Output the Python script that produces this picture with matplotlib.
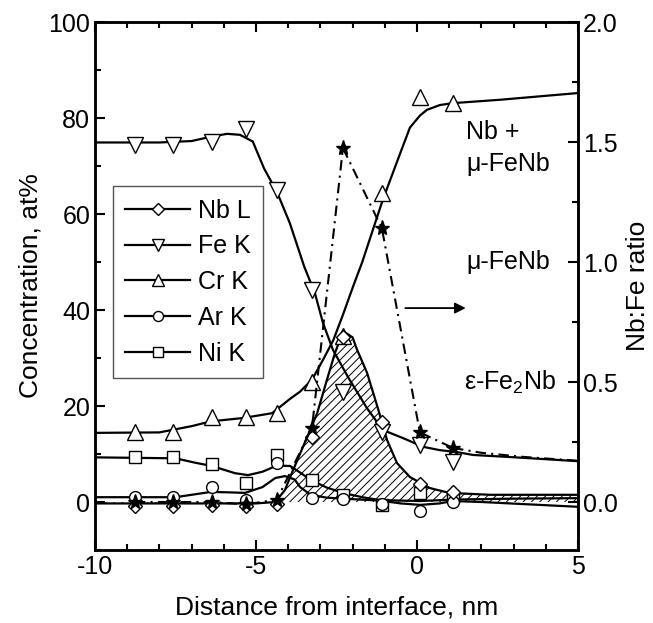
import matplotlib
matplotlib.use("Agg")
import matplotlib.pyplot as plt
from matplotlib.lines import Line2D

plt.rcParams['font.family'] = ['Liberation Sans', 'DejaVu Sans']
plt.rcParams['mathtext.default'] = 'regular'
plt.rcParams['axes.unicode_minus'] = False
plt.rcParams['hatch.linewidth'] = 0.7

# measured points (x in nm)
x_pts = [-8.76, -7.58, -6.37, -5.31, -4.35, -3.26, -2.30, -1.09, 0.09, 1.12]
nb_pts = [-0.8, -0.8, -0.6, -0.8, -0.5, 13.5, 34.4, 16.7, 3.8, 2.1]
fe_pts = [74.4, 74.4, 75.1, 77.8, 65.0, 44.2, 22.9, 14.6, 11.9, 8.3]
cr_pts = [14.6, 14.6, 17.7, 17.8, 18.5, 25.0, 34.5, 64.4, 84.4, 83.1]
ar_pts = [1.0, 1.0, 3.1, 0.4, 8.1, 0.8, 0.6, -0.5, -1.8, 0.0]
ni_pts = [9.3, 9.3, 7.9, 4.0, 9.8, 4.6, 1.5, -0.6, 1.9, 1.0]
ratio_pts = [0.0, 0.0, 0.0, -0.01, 0.01, 0.31, 1.475, 1.14, 0.29, 0.225]

# ratio line tail after last point
ratio_tail_x = [1.12, 2.0, 3.3, 5.0]
ratio_tail = [0.225, 0.205, 0.188, 0.172]

# smooth fitted curves
nb_cx = [-10, -8, -6, -5, -4.4, -4.1, -3.94, -3.54, -3.1, -2.8, -2.55, -2.35, -2.2,
         -2.0, -1.86, -1.55, -1.2, -0.93, -0.62, -0.22, 0.4, 1.0, 2.27, 5.0]
nb_cy = [-0.3, -0.3, -0.3, -0.3, 0.0, 2.5, 5.2, 11.5, 18.5, 25.4, 31.0, 34.6, 35.2,
         34.3, 31.7, 26.9, 19.2, 12.9, 8.1, 5.2, 2.9, 1.9, 1.5, 1.5]
fe_cx = [-10, -8, -7, -6.4, -5.9, -5.5, -5.1, -4.75, -4.35, -3.95, -3.5, -3.17, -2.92,
         -2.61, -2.14, -1.55, -1.06, -0.43, 0.19, 0.71, 1.24, 1.74, 2.8, 3.8, 5.0]
fe_cy = [74.9, 74.9, 75.2, 76.1, 76.7, 76.5, 75.1, 69.5, 64.6, 58.1, 49.0, 43.5, 37.3,
         31.7, 26.0, 19.5, 15.0, 13.3, 11.5, 10.8, 10.4, 9.8, 9.4, 9.0, 8.5]
cr_cx = [-10, -8, -7, -6.4, -5.4, -4.5, -3.94, -3.63, -3.26, -2.92, -2.6, -2.3, -1.99,
         -1.7, -1.06, -0.53, -0.22, 0.09, 0.31, 0.71, 1.12, 2.58, 5.0]
cr_cy = [14.4, 14.5, 15.8, 16.8, 17.5, 18.5, 21.5, 23.0, 25.5, 29.6, 33.7, 39.0, 44.8,
         50.0, 63.0, 72.5, 78.0, 80.5, 81.7, 82.7, 83.1, 83.8, 85.2]
ar_cx = [-10, -7.5, -6.9, -6.4, -5.8, -5.34, -4.8, -4.4, -4.1, -3.8, -3.63, -3.3, -2.8,
         -2.3, -1.15, -0.5, 0.1, 0.7, 1.1, 2.0, 3.5, 5.0]
ar_cy = [1.0, 1.0, 1.6, 2.1, 2.0, 1.9, 3.1, 5.0, 5.4, 4.7, 3.1, 1.5, 0.9,
         0.7, 0.3, -0.3, -0.6, -0.3, 0.2, 0.0, -0.5, -1.0]
ni_cx = [-10, -7.5, -6.9, -6.37, -5.65, -5.25, -4.8, -4.35, -3.94, -3.6, -3.3, -2.8,
         -2.3, -1.7, -1.15, 0.1, 1.1, 3.0, 5.0]
ni_cy = [9.3, 9.1, 8.2, 7.5, 6.0, 5.6, 6.3, 7.6, 7.5, 6.0, 4.6, 3.0,
         1.9, 1.0, 0.4, 0.2, 0.5, 0.7, 0.8]

labels = ['Nb L', 'Fe K', 'Cr K', 'Ar K', 'Ni K']
markers = ['D', 'v', '^', 'o', 's']
msizes = [7.5, 11, 11, 8.5, 8.5]

fig = plt.figure(figsize=(6.53, 6.23), dpi=100)
ax = fig.add_axes([95 / 653, 1 - 550 / 623, 483 / 653, 528 / 623])
ax2 = ax.twinx()

ax.fill_between(nb_cx, nb_cy, 0, facecolor='white', edgecolor='black',
                hatch='////', linewidth=0, zorder=1)

curves = [(nb_cx, nb_cy), (fe_cx, fe_cy), (cr_cx, cr_cy), (ar_cx, ar_cy), (ni_cx, ni_cy)]
for cx, cy in curves:
    ax.plot(cx, cy, color='black', lw=1.6, zorder=2)

pts = [nb_pts, fe_pts, cr_pts, ar_pts, ni_pts]
order = [4, 3, 2, 1, 0]
for i in order:
    ax.plot(x_pts, pts[i], ls='none', marker=markers[i], ms=msizes[i],
            mfc='white', mec='black', mew=1.0, zorder=3)

# Nb:Fe ratio on right axis
dashdot = (0, (5, 2.5, 1, 2.5))
ax2.plot(x_pts, ratio_pts, color='black', lw=1.5, ls=dashdot,
         marker='*', ms=11, mfc='black', mec='black', zorder=4)
ax2.plot(ratio_tail_x, ratio_tail, color='black', lw=1.5, ls=dashdot, zorder=4)

ax.set_xlim(-10, 5)
ax.set_ylim(-10, 100)
ax2.set_ylim(-0.2, 2.0)

ax.set_xticks([-10, -5, 0, 5])
ax.set_xticks(range(-10, 6), minor=True)
ax.set_yticks([0, 20, 40, 60, 80, 100])
ax.set_yticks(range(-10, 101, 10), minor=True)
ax2.set_yticks([0.0, 0.5, 1.0, 1.5, 2.0])
ax2.set_yticks([-0.25 + 0.25 * k for k in range(10)][1:], minor=True)
ax2.set_yticklabels(['0.0', '0.5', '1.0', '1.5', '2.0'])

ax.tick_params(which='both', direction='in', top=True, right=False, labelsize=18, width=1.5)
ax.tick_params(which='major', length=7)
ax.tick_params(which='minor', length=4)
ax2.tick_params(which='both', direction='in', labelsize=18, width=1.5)
ax2.tick_params(which='major', length=7)
ax2.tick_params(which='minor', length=4)
for sp in ax.spines.values():
    sp.set_linewidth(1.8)
for sp in ax2.spines.values():
    sp.set_linewidth(1.8)

ax.set_xlabel('Distance from interface, nm', fontsize=19, labelpad=12)
ax.set_ylabel('Concentration, at%', fontsize=19, labelpad=4)
ax2.set_ylabel('Nb:Fe ratio', fontsize=19, labelpad=6)

# phase annotations
ax.text(1.52, 77.0, 'Nb +', fontsize=18, va='center', ha='left')
ax.text(1.52, 70.5, 'μ-FeNb', fontsize=18, va='center', ha='left')
ax.text(1.52, 50.0, 'μ-FeNb', fontsize=18, va='center', ha='left')
ax.text(1.45, 25.0, 'ε-Fe$_2$Nb', fontsize=18, va='center', ha='left')
ax.annotate('', xy=(1.6, 40.4), xytext=(-0.45, 40.4),
            arrowprops=dict(arrowstyle='-|>', color='black', lw=1.3, mutation_scale=16))

handles = [Line2D([0], [0], color='black', lw=1.6, marker=markers[i], ms=msizes[i] * 0.85,
                  mfc='white', mec='black', mew=1.0) for i in range(5)]
leg = ax.legend(handles, labels, loc='upper left', bbox_to_anchor=(0.037, 0.689),
                borderaxespad=0, fontsize=18, handlelength=2.6, handletextpad=0.3,
                labelspacing=0.47, borderpad=0.5, fancybox=False, framealpha=1)
leg.get_frame().set_edgecolor('#555555')
leg.get_frame().set_linewidth(1.0)

fig.savefig('out.png', dpi=100)
